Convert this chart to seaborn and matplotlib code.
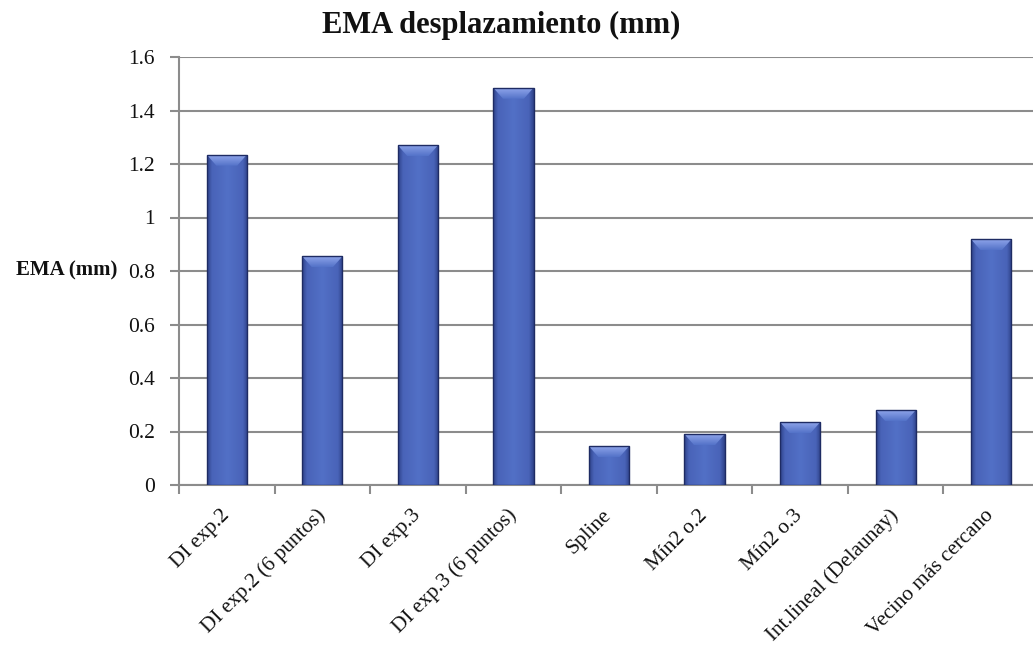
import matplotlib
matplotlib.use("Agg")
import matplotlib.pyplot as plt
from matplotlib.colors import LinearSegmentedColormap
from matplotlib.patches import Polygon
import numpy as np
import pandas as pd
import seaborn as sns

categories = ["DI exp.2", "DI exp.2 (6 puntos)", "DI exp.3", "DI exp.3 (6 puntos)",
              "Spline", "Mín2 o.2", "Mín2 o.3", "Int.lineal (Delaunay)", "Vecino más cercano"]
values = [1.235, 0.855, 1.27, 1.485, 0.145, 0.19, 0.235, 0.28, 0.918]
yticks = [0, 0.2, 0.4, 0.6, 0.8, 1.0, 1.2, 1.4, 1.6]
ytick_labels = ["0", "0.2", "0.4", "0.6", "0.8", "1", "1.2", "1.4", "1.6"]
title = "EMA desplazamiento (mm)"
ylabel = "EMA (mm)"

sns.set_theme(style="white")
plt.rcParams['font.family'] = ['Liberation Serif', 'DejaVu Serif']

GRID = "#8C8C8C"
fig = plt.figure(figsize=(10.33, 6.5), dpi=100)
ax = fig.add_axes([179/1033, 1 - 485/650, (1039 - 179)/1033, (485 - 57)/650])

df = pd.DataFrame({"cat": categories, "val": values})
sns.barplot(data=df, x="cat", y="val", width=0.42, color="#4D68BE",
            edgecolor="#1E2B63", linewidth=1.0, ax=ax, zorder=3)

cmap = LinearSegmentedColormap.from_list(
    "bar", [(0.0, "#2E4288"), (0.12, "#4963B8"), (0.5, "#5270C6"), (0.88, "#4963B8"), (1.0, "#2E4288")])
bev_cmap = LinearSegmentedColormap.from_list("bev", ["#5372C8", "#8FA5EA"])
t = np.linspace(0, 1, 200)
grad = t[None, :]
vgrad = t[:, None]
for p in list(ax.patches):
    x0, y0, w, h = p.get_x(), p.get_y(), p.get_width(), p.get_height()
    im = ax.imshow(grad, extent=[x0, x0 + w, y0, y0 + h], aspect="auto", cmap=cmap,
                   zorder=3.2, interpolation="bilinear")
    im.set_clip_path(p)
    top = y0 + h
    bh = min(11 / 267.5, h * 0.45)
    d = w * 0.24
    bevel = Polygon([(x0, top), (x0 + w, top), (x0 + w - d, top - bh), (x0 + d, top - bh)],
                    closed=True, facecolor="none", edgecolor="none", zorder=3.4)
    ax.add_patch(bevel)
    bim = ax.imshow(vgrad, extent=[x0, x0 + w, top - bh, top], origin="lower", aspect="auto",
                    cmap=bev_cmap, zorder=3.4, interpolation="bilinear")
    bim.set_clip_path(bevel)
    p.set_facecolor("none")
    p.set_zorder(3.6)

ax.set_xlim(-0.5, 8.5)
ax.set_ylim(0, 1.6)
ax.set_axisbelow(True)
ax.yaxis.grid(True, color=GRID, linewidth=1.5)
ax.xaxis.grid(False)

for s in ["top", "right"]:
    ax.spines[s].set_visible(False)
for s in ["left", "bottom"]:
    ax.spines[s].set_color(GRID)
    ax.spines[s].set_linewidth(1.5)

ax.set_yticks(yticks)
ax.set_yticklabels(ytick_labels, fontsize=15.5, color="#111111")
ax.tick_params(axis="y", which="major", left=True, length=6.5, width=1.5, color=GRID,
               direction="out", pad=11)

ax.set_xticks(range(len(categories)))
ax.set_xticks(np.arange(-0.5, 8.6, 1.0), minor=True)
ax.tick_params(axis="x", which="major", bottom=True, length=0, pad=20)
ax.tick_params(axis="x", which="minor", bottom=True, length=6.5, width=1.5, color=GRID,
               direction="out")
ax.set_xticklabels(categories, rotation=45, ha="right", rotation_mode="anchor",
                   fontsize=15.3, color="#111111")
for lab in ax.get_xticklabels():
    lab.set_va("center")

ax.set_xlabel("")
ax.set_ylabel("")
fig.text(117/1033, 1 - 270/650, ylabel, ha="right", va="center", fontsize=15,
         fontweight="bold", color="#111111")
fig.text(501/1033, 1 - 25/650, title, ha="center", va="center", fontsize=22,
         fontweight="bold", color="#111111")

fig.savefig("out.png", dpi=100)
